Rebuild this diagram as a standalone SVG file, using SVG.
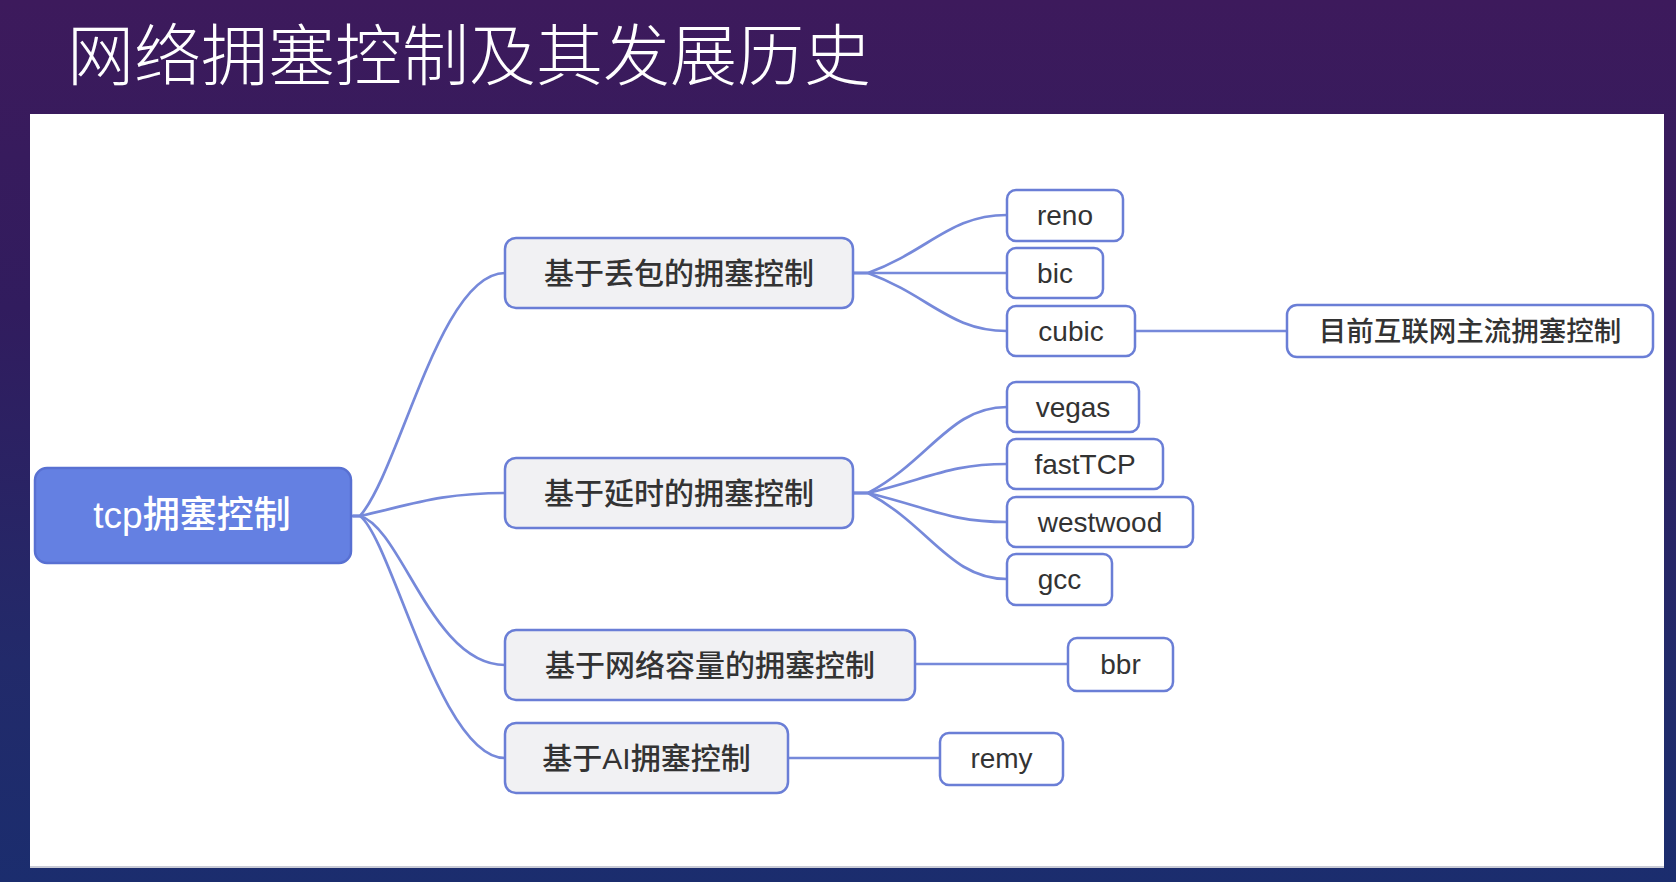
<svg xmlns="http://www.w3.org/2000/svg" width="1676" height="882" viewBox="0 0 1676 882">
  <defs>
    <linearGradient id="bg" x1="0" y1="0" x2="0" y2="1">
      <stop offset="0" stop-color="#3d1a5c"/>
      <stop offset="0.35" stop-color="#311c5e"/>
      <stop offset="0.75" stop-color="#222a6a"/>
      <stop offset="1" stop-color="#1b2d6e"/>
    </linearGradient>
    <style>
      .title { font-family: "Noto Sans CJK SC", "Liberation Sans", sans-serif; font-size: 67px; font-weight: 300; fill: #ffffff; }
      .root rect { fill: #6480e2; stroke: #5870d2; stroke-width: 2.5; }
      .root text { font-family: "Liberation Sans", "Noto Sans CJK SC", sans-serif; font-size: 37px; font-weight: 500; fill: #ffffff; text-anchor: middle; }
      .branch rect { fill: #f1f1f3; stroke: #6a7ed6; stroke-width: 2.5; }
      .branch text { font-family: "Liberation Sans", "Noto Sans CJK SC", sans-serif; font-size: 30px; font-weight: 500; fill: #333333; text-anchor: middle; }
      .leaf rect { fill: #ffffff; stroke: #6a7ed6; stroke-width: 2.5; }
      .leaf text { font-family: "Liberation Sans", "Noto Sans CJK SC", sans-serif; font-size: 28px; font-weight: 500; fill: #333333; text-anchor: middle; }
      .note text { font-size: 27.5px; }
      #connectors path { fill: none; stroke: #7689da; stroke-width: 2.7; stroke-linecap: round; }
    </style>
  </defs>

  <!-- backdrop and white canvas -->
  <rect x="0" y="0" width="1676" height="882" fill="url(#bg)"/>
  <rect x="30" y="116" width="1634" height="752" fill="#c9cbd6"/>
  <rect x="30" y="114" width="1634" height="752" fill="#ffffff"/>

  <text class="title" x="67" y="80">网络拥塞控制及其发展历史</text>

  <!-- connectors -->
  <g id="connectors">
    <!-- root to categories -->
    <path d="M353,516 L360,516 C400,470 440,273 505,273"/>
    <path d="M353,516 L360,516 C410,505 440,493 505,493"/>
    <path d="M353,516 L360,516 C402,528 432,665 505,665"/>
    <path d="M353,516 L360,516 C392,540 440,758 505,758"/>
    <!-- loss based -->
    <path d="M853,273 L868,273 C930,250 950,215 1007,215"/>
    <path d="M853,273 L1007,273"/>
    <path d="M853,273 L868,273 C930,296 950,331 1007,331"/>
    <path d="M1135,331 L1287,331"/>
    <!-- delay based -->
    <path d="M853,493 L868,493 C930,460 950,407 1007,407"/>
    <path d="M853,493 L868,493 C930,478 950,464 1007,464"/>
    <path d="M853,493 L868,493 C930,508 950,522 1007,522"/>
    <path d="M853,493 L868,493 C930,526 950,579 1007,579"/>
    <!-- capacity based / AI -->
    <path d="M915,664 L1068,664"/>
    <path d="M788,758 L940,758"/>
  </g>

  <!-- root -->
  <g id="node-root" class="root">
    <rect x="35" y="468" width="316" height="95" rx="12"/>
    <text x="192" y="528">tcp拥塞控制</text>
  </g>

  <!-- categories -->
  <g id="node-loss" class="branch">
    <rect x="505" y="238" width="348" height="70" rx="11"/>
    <text x="679" y="284">基于丢包的拥塞控制</text>
  </g>
  <g id="node-delay" class="branch">
    <rect x="505" y="458" width="348" height="70" rx="11"/>
    <text x="679" y="504">基于延时的拥塞控制</text>
  </g>
  <g id="node-capacity" class="branch">
    <rect x="505" y="630" width="410" height="70" rx="11"/>
    <text x="710" y="676">基于网络容量的拥塞控制</text>
  </g>
  <g id="node-ai" class="branch">
    <rect x="505" y="723" width="283" height="70" rx="11"/>
    <text x="646.5" y="769">基于AI拥塞控制</text>
  </g>

  <!-- algorithms -->
  <g id="node-reno" class="leaf">
    <rect x="1007" y="190" width="116" height="51" rx="9"/>
    <text x="1065" y="225">reno</text>
  </g>
  <g id="node-bic" class="leaf">
    <rect x="1007" y="248" width="96" height="50" rx="9"/>
    <text x="1055" y="283">bic</text>
  </g>
  <g id="node-cubic" class="leaf">
    <rect x="1007" y="306" width="128" height="50" rx="9"/>
    <text x="1071" y="341">cubic</text>
  </g>
  <g id="node-mainstream" class="leaf note">
    <rect x="1287" y="305" width="366" height="52" rx="10"/>
    <text x="1470" y="341">目前互联网主流拥塞控制</text>
  </g>
  <g id="node-vegas" class="leaf">
    <rect x="1007" y="382" width="132" height="50" rx="9"/>
    <text x="1073" y="417">vegas</text>
  </g>
  <g id="node-fasttcp" class="leaf">
    <rect x="1007" y="439" width="156" height="50" rx="9"/>
    <text x="1085" y="474">fastTCP</text>
  </g>
  <g id="node-westwood" class="leaf">
    <rect x="1007" y="497" width="186" height="50" rx="9"/>
    <text x="1100" y="532">westwood</text>
  </g>
  <g id="node-gcc" class="leaf">
    <rect x="1007" y="554" width="105" height="51" rx="9"/>
    <text x="1059.5" y="589">gcc</text>
  </g>
  <g id="node-bbr" class="leaf">
    <rect x="1068" y="638" width="105" height="53" rx="9"/>
    <text x="1120.5" y="674">bbr</text>
  </g>
  <g id="node-remy" class="leaf">
    <rect x="940" y="733" width="123" height="52" rx="9"/>
    <text x="1001.5" y="768">remy</text>
  </g>
</svg>
